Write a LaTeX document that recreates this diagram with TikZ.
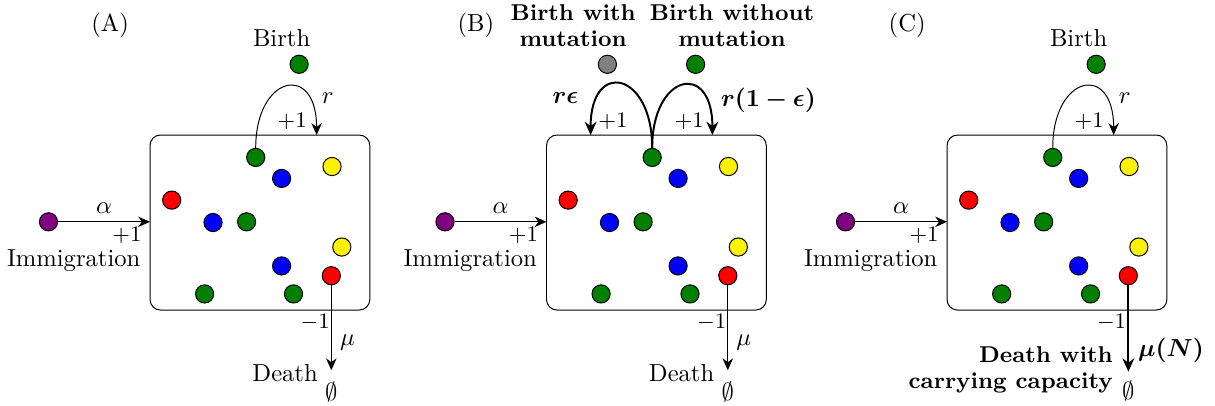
\documentclass[tikz,border=0pt]{standalone}
\usepackage{amsmath,amssymb}
\usepackage{bm}
\usepackage{tikz}
\usetikzlibrary{arrows.meta, positioning}

\definecolor{cellgreen}{RGB}{0,128,0}
\definecolor{cellpurple}{RGB}{128,0,128}
\definecolor{cellgray}{RGB}{128,128,128}

\tikzset{
  cell/.style={circle, draw=black, fill=#1, minimum size=0.26cm, inner sep=0pt},
  tank/.style={draw, rounded corners=0.15cm, minimum width=3.14cm, minimum height=2.5cm, inner sep=0pt, outer sep=0pt},
  flow/.style={-{Stealth[length=1.7mm, width=1.5mm]}},
  bigflow/.style={thick, -{Stealth[length=1.9mm, width=1.7mm]}},
  plusone/.style={font=\small, inner sep=1pt},
  boldlab/.style={font=\fontsize{9.3}{10.6}\selectfont\bfseries, align=center},
}

% box with the cells and the immigration arrow
\newcommand{\population}[1]{%
  \node[tank] (#1-box) at (1.57,1.25) {};
  \foreach \name/\col/\x/\y in {g1/cellgreen/1.51/2.18, b1/blue/1.88/1.88, y1/yellow/2.60/2.05,
      r1/red/0.31/1.57, b2/blue/0.90/1.25, g2/cellgreen/1.38/1.26, y2/yellow/2.74/0.90,
      b3/blue/1.88/0.63, r2/red/2.59/0.49, g3/cellgreen/0.78/0.23, g4/cellgreen/2.05/0.23}
    \node[cell=\col] (#1-\name) at (\x,\y) {};
  \node[cell=cellpurple] (#1-imm) at (-1.45,1.26) {};
  \draw[flow] (#1-imm) -- (#1-imm -| #1-box.west)
    node[midway, above] (#1-alpha) {$\alpha$}
    node[near end, below=1pt, plusone] (#1-immplus) {$+1$};
  \node (#1-immlabel) at (-1.09,0.70) {Immigration};
}

\begin{document}
\begin{tikzpicture}
  \useasboundingbox (-2.143,-1.357) rectangle (15.214,4.429);

  % (A) birth, immigration, death
  \begin{scope}
    \population{A}
    \node (A-tag) at (-0.57,4.07) {(A)};
    \node (A-birth) at (1.88,3.88) {Birth};
    \node[cell=cellgreen] (A-new) at (2.13,3.51) {};
    \coordinate (A-btip) at (2.38,2.5);
    \draw[flow] (A-g1) to[out=90, in=90, looseness=3] (A-btip);
    \node (A-r) at (2.54,3.03) {$r$};
    \node[plusone] (A-bplus) at (2.03,2.70) {$+1$};
    \coordinate (A-dtip) at (2.59,-0.86);
    \draw[flow] (A-r2) -- (A-dtip);
    \node[plusone] (A-dminus) at (2.36,-0.17) {$-1$};
    \node (A-mu) at (2.82,-0.47) {$\mu$};
    \node (A-death) at (1.93,-0.90) {Death};
    \node (A-empty) at (2.59,-1.17) {$\emptyset$};
  \end{scope}

  % (B) birth with and without mutation
  \begin{scope}[xshift=5.664cm]
    \population{B}
    \node (B-tag) at (-1.01,4.07) {(B)};
    \node[boldlab] (B-withlab) at (0.38,4.06) {Birth with\\mutation};
    \node[boldlab] (B-withoutlab) at (2.65,4.06) {Birth without\\mutation};
    \node[cell=cellgray] (B-mut) at (0.87,3.51) {};
    \node[cell=cellgreen] (B-new) at (2.13,3.51) {};
    \coordinate (B-mtip) at (0.63,2.5);
    \coordinate (B-btip) at (2.37,2.5);
    \draw[bigflow] (B-g1) to[out=90, in=90, looseness=3.1] (B-mtip);
    \draw[bigflow] (B-g1) to[out=90, in=90, looseness=3.1] (B-btip);
    \node (B-reps) at (0.27,3.03) {$\bm{r\epsilon}$};
    \node[plusone] (B-mplus) at (0.95,2.70) {$+1$};
    \node[plusone] (B-bplus) at (2.04,2.70) {$+1$};
    \node (B-rrest) at (3.17,3.00) {$\bm{r(1-\epsilon)}$};
    \coordinate (B-dtip) at (2.59,-0.86);
    \draw[flow] (B-r2) -- (B-dtip);
    \node[plusone] (B-dminus) at (2.36,-0.17) {$-1$};
    \node (B-mu) at (2.82,-0.47) {$\mu$};
    \node (B-death) at (1.93,-0.90) {Death};
    \node (B-empty) at (2.59,-1.17) {$\emptyset$};
  \end{scope}

  % (C) death with carrying capacity
  \begin{scope}[xshift=11.386cm]
    \population{C}
    \node (C-tag) at (-0.57,4.07) {(C)};
    \node (C-birth) at (1.88,3.88) {Birth};
    \node[cell=cellgreen] (C-new) at (2.13,3.51) {};
    \coordinate (C-btip) at (2.38,2.5);
    \draw[flow] (C-g1) to[out=90, in=90, looseness=3] (C-btip);
    \node (C-r) at (2.54,3.03) {$r$};
    \node[plusone] (C-bplus) at (2.03,2.70) {$+1$};
    \coordinate (C-dtip) at (2.59,-0.88);
    \draw[bigflow] (C-r2) -- (C-dtip);
    \node[plusone] (C-dminus) at (2.35,-0.17) {$-1$};
    \node (C-mu) at (3.20,-0.57) {$\bm{\mu(N)}$};
    \node[boldlab, align=right, anchor=east] (C-death) at (2.49,-0.85) {Death with\\carrying capacity};
    \node (C-empty) at (2.59,-1.15) {$\emptyset$};
  \end{scope}
\end{tikzpicture}
\end{document}
